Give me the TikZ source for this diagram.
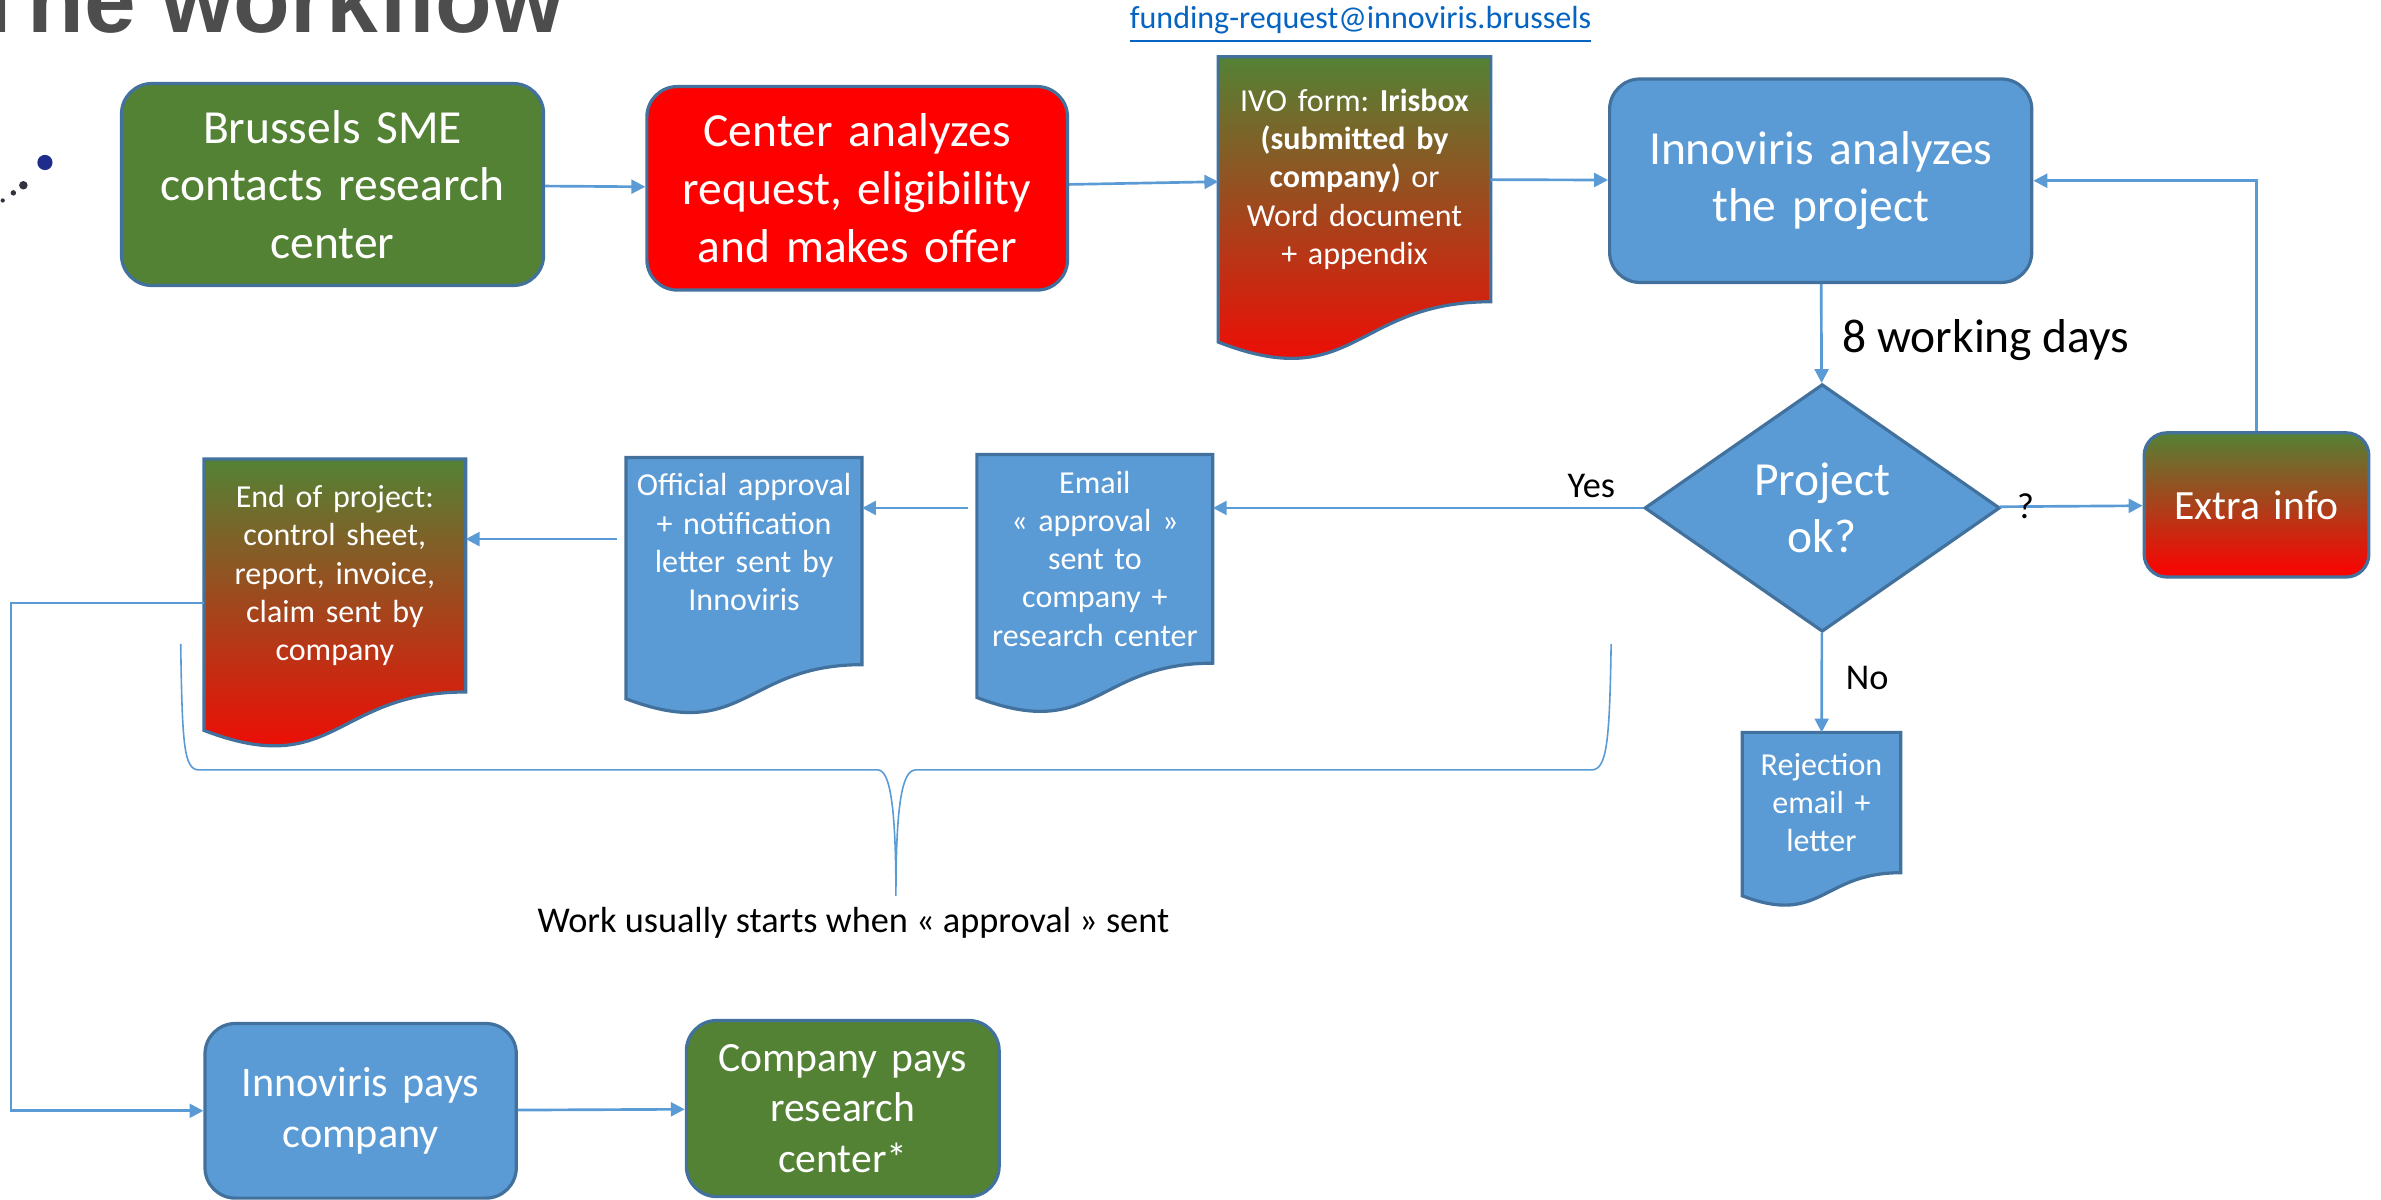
\documentclass[tikz,border=0pt]{standalone}
\usepackage{fontspec}
\setmainfont{Carlito}
\newfontfamily\headfont{Liberation Sans}
\usetikzlibrary{shapes.geometric,arrows.meta,calc,backgrounds,positioning}
\frenchspacing
\definecolor{leaf_green}{RGB}{84,130,53}
\definecolor{alert_red}{RGB}{255,0,0}
\definecolor{steel_blue}{RGB}{91,155,213}
\definecolor{edge_blue}{RGB}{65,113,156}
\definecolor{link_blue}{RGB}{5,99,193}
\definecolor{title_gray}{RGB}{77,77,77}
\definecolor{dot_blue}{RGB}{30,45,140}
\definecolor{dot_dark}{RGB}{50,50,65}

\begin{document}
\begin{tikzpicture}[
	bigfont/.style={font=\fontsize{8.9pt}{10.8pt}\selectfont},
	midfont/.style={font=\fontsize{7.8pt}{9.4pt}\selectfont},
	smallfont/.style={font=\fontsize{6pt}{7.15pt}\selectfont},
	box/.style={rounded corners=0.2cm,draw=edge_blue,line width=0.6pt,text=white,align=center,inner sep=0pt,bigfont},
	doc/.style={text=white,align=center,inner sep=0pt,smallfont},
	flow/.style={draw=steel_blue,line width=0.5pt,-{Triangle[length=2.6pt,width=2.6pt]}},
	lbl/.style={text=black,inner sep=0pt,font=\fontsize{6.8pt}{8pt}\selectfont},
	blue_fill/.style={fill=steel_blue},
	mix_fill/.style={top color=leaf_green,bottom color=alert_red}]
	\useasboundingbox (0,0) rectangle (15.68,-7.90);
	\clip (0,0) rectangle (15.68,-7.90);

	% heading and logo remains
	\node[anchor=base west,inner sep=0pt,text=title_gray,font=\headfont\bfseries\fontsize{17.4pt}{20pt}\selectfont] (title) at (-0.20,-0.215) {The workflow};
	\fill[dot_blue] (0.296,-1.07) circle (0.05);
	\fill[dot_dark] (0.154,-1.22) circle (0.028);
	\fill[dot_dark] (0.088,-1.27) circle (0.018);
	\fill[dot_dark] (0.018,-1.32) circle (0.014);
	\node[anchor=base,inner sep=0pt,text=link_blue,smallfont] (link) at (8.96,-0.185) {\underline{funding-request@innoviris.brussels}};

	% top row
	\node[box,fill=leaf_green,minimum width=2.78cm,minimum height=1.33cm,text width=2.6cm] (sme) at (2.19,-1.215) {Brussels SME\\contacts research\\center};
	\node[box,fill=alert_red,minimum width=2.77cm,minimum height=1.34cm,text width=2.6cm] (offer) at (5.645,-1.24) {Center analyzes\\request, eligibility\\and makes offer};
	\node[doc,minimum width=1.78cm,minimum height=1.60cm,text width=1.7cm] (form) at (8.92,-1.18) {IVO form: \textbf{Irisbox}\\\textbf{(submitted by}\\\textbf{company)} or\\Word document\\+ appendix};
	\node[box,fill=steel_blue,minimum width=2.78cm,minimum height=1.34cm,text width=2.6cm] (analyze) at (11.99,-1.19) {Innoviris analyzes\\the project};

	% decision
	\node[diamond,aspect=1.43,draw=edge_blue,line width=0.6pt,fill=steel_blue,text=white,align=center,inner sep=0pt,minimum width=2.34cm,minimum height=1.63cm,bigfont] (check) at (12.0,-3.345) {Project\\ok?};
	\node[box,mix_fill,rounded corners=0.15cm,minimum width=1.48cm,minimum height=0.95cm,text width=1.4cm,midfont] (extra) at (14.86,-3.325) {Extra info};
	\node[doc,minimum width=1.03cm,minimum height=0.91cm,text width=1.0cm] (reject) at (11.995,-5.285) {Rejection\\email +\\letter};

	% middle row
	\node[doc,minimum width=1.54cm,minimum height=1.36cm,text width=1.5cm] (mail) at (7.21,-3.68) {Email\\«~approval~»\\sent to\\company +\\research center};
	\node[doc,minimum width=1.54cm,minimum height=1.35cm,text width=1.5cm] (approval) at (4.90,-3.695) {Official approval\\+ notification\\letter sent by\\Innoviris\\\mbox{}};
	\node[doc,minimum width=1.71cm,minimum height=1.52cm,text width=1.65cm] (closing) at (2.205,-3.79) {End of project:\\control sheet,\\report, invoice,\\claim sent by\\company};

	% payments
	\node[box,fill=steel_blue,minimum width=2.05cm,minimum height=1.15cm,text width=1.9cm,font=\fontsize{7.9pt}{9.6pt}\selectfont] (pay) at (2.375,-7.315) {Innoviris pays\\company};
	\node[box,fill=leaf_green,minimum width=2.06cm,minimum height=1.16cm,text width=1.9cm,midfont] (payback) at (5.55,-7.30) {Company pays\\research\\center*};

	% document outlines behind the texts
	\begin{scope}[on background layer]
		\foreach \n/\f in {form/mix_fill,mail/blue_fill,approval/blue_fill,closing/mix_fill,reject/blue_fill}
			\path[\f,draw=edge_blue,line width=0.6pt] (\n.north west) -- (\n.north east) -- (\n.south east)
				.. controls (\n.south) and ($(\n.north)!1.381!(\n.south)$) .. ($(\n.north west)!1.1646!(\n.south west)$) -- cycle;
	\end{scope}

	\foreach \x/\y in {sme/offer,offer/form,form/analyze,pay/payback}
		\draw[flow] (\x) -- (\y);
	\draw[flow] (analyze) -- node[lbl,bigfont,right=0.13cm,pos=0.57] {8 working days} (check);
	\draw[flow] (check) -- node[lbl,pos=0.18] {?} (extra);
	\draw[flow] (check) -- node[lbl,right=0.15cm,pos=0.45] {No} (reject);
	\draw[flow] (extra.north) |- (analyze.east);
	\draw[flow] (check.west) -- node[lbl,above=0.06cm,pos=0.12] {Yes} (check.west -| mail.east);
	\draw[flow,shorten <=0.06cm] (mail.west |- check.west) -- (approval.east |- check.west);
	\draw[flow,shorten <=0.06cm] ([yshift=0.145cm]approval.west) -- ([yshift=0.145cm]approval.west -| closing.east);
	\draw[flow] ([yshift=-0.18cm]closing.west) -- ++(-1.27,0) |- (pay.west);

	% brace under the documents
	\draw[steel_blue,line width=0.3pt] (1.19,-4.24) .. controls (1.20,-4.90) and (1.21,-5.07) .. (1.31,-5.07) -- (5.78,-5.07)
		.. controls (5.86,-5.07) and (5.90,-5.30) .. (5.90,-5.90) .. controls (5.90,-5.30) and (5.94,-5.07) .. (6.03,-5.07) -- (10.48,-5.07)
		.. controls (10.58,-5.07) and (10.60,-4.90) .. (10.61,-4.24);
	\node[lbl] (note) at (5.62,-6.08) {Work usually starts when «~approval~» sent};
\end{tikzpicture}
\end{document}
